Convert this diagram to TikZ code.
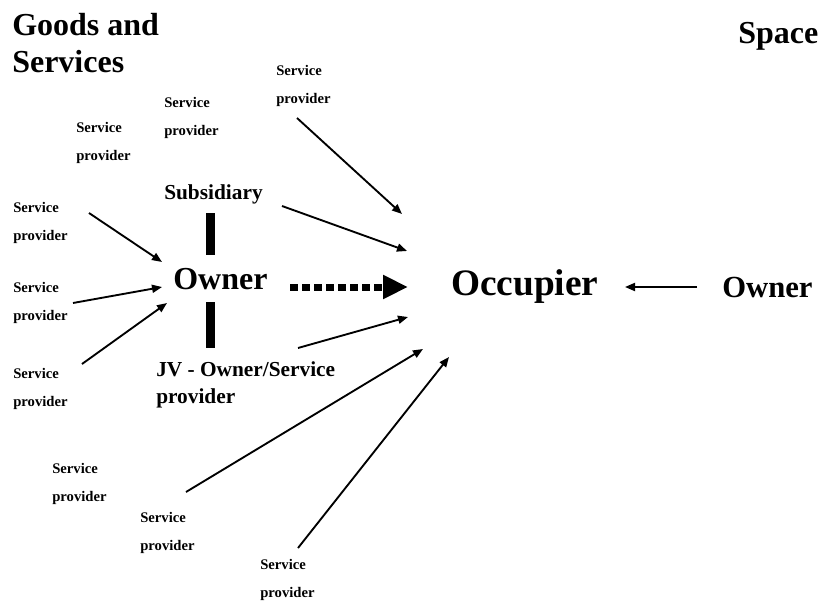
\documentclass[tikz,border=0pt]{standalone}
\usepackage{fontspec}
\setmainfont{Liberation Serif}
\usetikzlibrary{arrows.meta}

\begin{document}
\begin{tikzpicture}[x=0.75pt,y=-0.75pt,
    lbl/.style={anchor=base west,inner sep=0pt,align=left,font=\bfseries\fontsize{11}{21}\selectfont},
    big/.style={anchor=base west,inner sep=0pt,align=left,font=\bfseries\fontsize{24}{27.75}\selectfont},
    mid/.style={anchor=base west,inner sep=0pt,align=left,font=\bfseries\fontsize{16}{20.25}\selectfont},
    arr/.style={-{Triangle[length=7.5pt,width=6pt]},line width=1.4pt},
    dots/.style={-{Triangle[length=18.75pt,width=17pt]},line width=5.25pt,dash pattern=on 6pt off 3pt},
    bar/.style={line width=6.75pt}
  ]
    \useasboundingbox (0,0) rectangle (821,603);

    % headings and main parties (base = last line)
    \node[big] (goods) at (12,72) {Goods and\\Services};
    \node[big] (space) at (738,43) {Space};
    \node[mid] (subsid) at (164,199) {Subsidiary};
    \node[big] (ownerL) at (173,289) {Owner};
    \node[big,font=\bfseries\fontsize{28}{30}\selectfont] (occ) at (451,295) {Occupier};
    \node[big,font=\bfseries\fontsize{23}{26}\selectfont] (ownerR) at (722,297) {Owner};
    \node[mid] (jv) at (156,403) {JV - Owner/Service\\provider};

    % service providers
    \foreach \n/\x/\y in {1/276/103,2/164/135,3/76/160,4/13/240,5/13/320,6/13/406,7/52/501,8/140/550,9/260/597}
      \node[lbl] (sp\n) at (\x,\y) {Service\\provider};

    % connector ends
    \coordinate (sp1-out) at (297,118);  \coordinate (occ-in1) at (402,214);
    \coordinate (sub-out) at (282,206);  \coordinate (occ-in2) at (407,251);
    \coordinate (own-out) at (290,287);  \coordinate (occ-in3) at (408,287);
    \coordinate (jv-out)  at (298,348);  \coordinate (occ-in4) at (408,317);
    \coordinate (sp8-out) at (186,492);  \coordinate (occ-in5) at (423,349);
    \coordinate (sp9-out) at (298,548);  \coordinate (occ-in6) at (449,357);
    \coordinate (own2-out) at (697,287); \coordinate (occ-in7) at (625,287);
    \coordinate (sp4-out) at (89,213);   \coordinate (own-in1) at (162,262);
    \coordinate (sp5-out) at (73,303);   \coordinate (own-in2) at (162,287);
    \coordinate (sp6-out) at (82,364);   \coordinate (own-in3) at (167,303);
    \coordinate (bar1-top) at (210,213); \coordinate (bar1-bot) at (210,255);
    \coordinate (bar2-top) at (210,302); \coordinate (bar2-bot) at (210,348);

    % links of the owner
    \draw[bar] (bar1-top) -- (bar1-bot);
    \draw[bar] (bar2-top) -- (bar2-bot);
    \draw[dots] (own-out) -- (occ-in3);

    % arrows into the owner and the occupier
    \draw[arr] (sp4-out) -- (own-in1);
    \draw[arr] (sp5-out) -- (own-in2);
    \draw[arr] (sp6-out) -- (own-in3);
    \draw[arr] (sp1-out) -- (occ-in1);
    \draw[arr] (sub-out) -- (occ-in2);
    \draw[arr] (jv-out) -- (occ-in4);
    \draw[arr] (sp8-out) -- (occ-in5);
    \draw[arr] (sp9-out) -- (occ-in6);
    \draw[arr] (own2-out) -- (occ-in7);
  \end{tikzpicture}
\end{document}
